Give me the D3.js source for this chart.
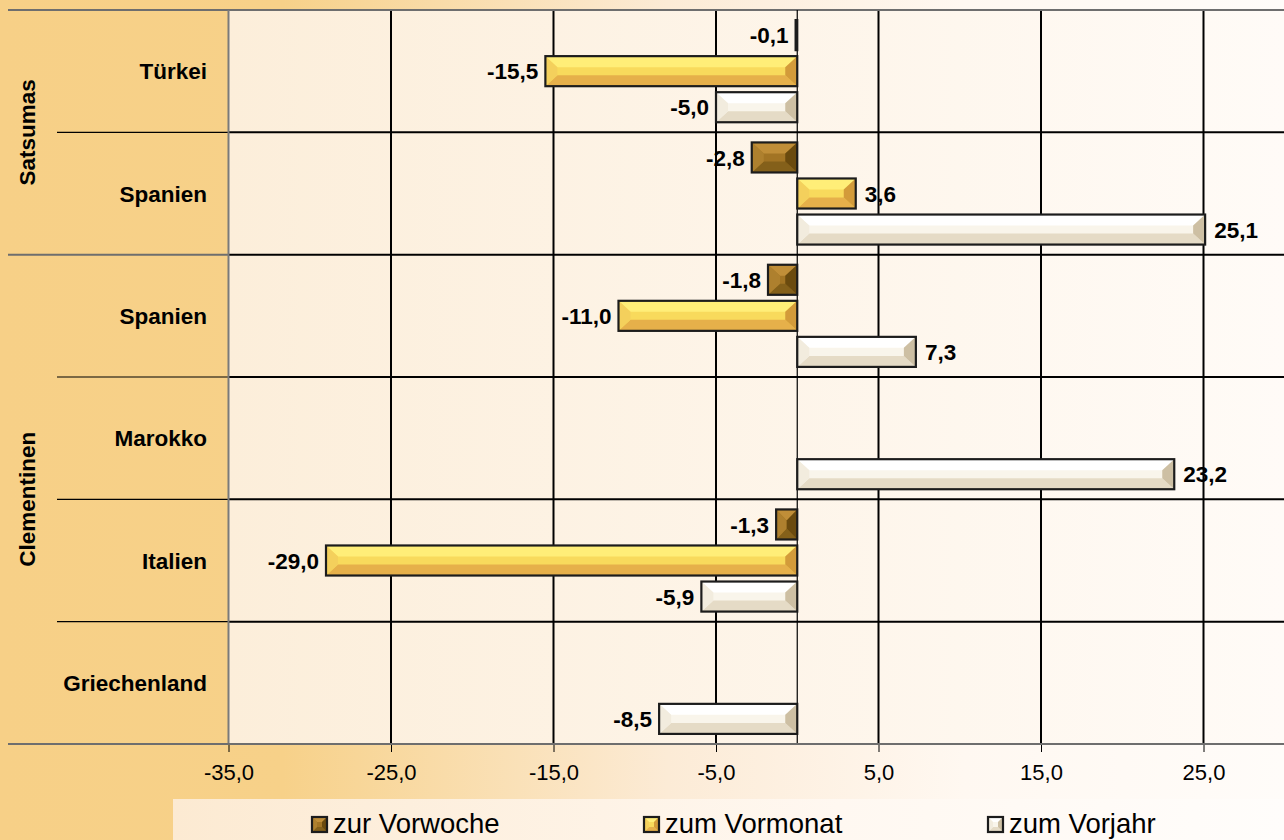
<!DOCTYPE html>
<html>
<head>
<meta charset="utf-8">
<script src="https://cdn.jsdelivr.net/npm/d3@7"></script>
<style>
  html, body { margin: 0; padding: 0; background: #fff; }
  svg { display: block; font-family: Arial, "Liberation Sans", sans-serif; }
</style>
</head>
<body>
<svg id="chart" width="1284" height="840"></svg>
<script>
// Price changes in percent, citrus imports by origin
const groups = ["Satsumas", "Clementinen"];
const rows = [
  { group: "Satsumas", label: "Türkei" },
  { group: "Satsumas", label: "Spanien" },
  { group: "Clementinen", label: "Spanien" },
  { group: "Clementinen", label: "Marokko" },
  { group: "Clementinen", label: "Italien" },
  { group: "Clementinen", label: "Griechenland" }
];
const seriesNames = ["zur Vorwoche", "zum Vormonat", "zum Vorjahr"];
const vorwoche = [-0.1, -2.8, -1.8, null, -1.3, null];
const vormonat = [-15.5, 3.6, -11.0, null, -29.0, null];
const vorjahr  = [-5.0, 25.1, 7.3, 23.2, -5.9, -8.5];
const tickValues = [-35, -25, -15, -5, 5, 15, 25];

const seriesValues = [vorwoche, vormonat, vorjahr];

// bevel shading per series: top, centre, bottom, left, right faces
const shades = [
  { top: "#C08E38", mid: "#A27424", bot: "#84601A", left: "#AE802E", right: "#6A4A0E" },
  { top: "#FFEE78", mid: "#F8DA5C", bot: "#E6B04A", left: "#F4D05C", right: "#D39B3A" },
  { top: "#FFFFFF", mid: "#F9F5EB", bot: "#E5DBC6", left: "#F2ECDE", right: "#CDBFA3" }
];

const svg = d3.select("#chart");
const W = 1284, H = 840;
const plot = { left: 228.5, top: 10, bottom: 744 };

const defs = svg.append("defs");
const bgGrad = defs.append("linearGradient").attr("id", "bgGrad");
bgGrad.append("stop").attr("offset", "0%").attr("stop-color", "#F7D087");
bgGrad.append("stop").attr("offset", "22%").attr("stop-color", "#F7D189");
bgGrad.append("stop").attr("offset", "52%").attr("stop-color", "#FCEBD6");
bgGrad.append("stop").attr("offset", "75%").attr("stop-color", "#FFF8F1");
bgGrad.append("stop").attr("offset", "100%").attr("stop-color", "#FFFCF9");

const plotGrad = defs.append("linearGradient").attr("id", "plotGrad");
plotGrad.append("stop").attr("offset", "0%").attr("stop-color", "#FCEEDA");
plotGrad.append("stop").attr("offset", "100%").attr("stop-color", "#FFFBF7");

const legGrad = defs.append("linearGradient").attr("id", "legGrad");
legGrad.append("stop").attr("offset", "0%").attr("stop-color", "#FCEAD2");
legGrad.append("stop").attr("offset", "60%").attr("stop-color", "#FFF8F1");
legGrad.append("stop").attr("offset", "100%").attr("stop-color", "#FFFDFB");

svg.append("rect").attr("width", W).attr("height", H).attr("fill", "url(#bgGrad)");

// scales
const x = d3.scaleLinear().domain([-35, 35]).range([plot.left, plot.left + 70 * 16.25]);
const y = d3.scaleBand().domain(d3.range(rows.length)).range([plot.top, plot.bottom]);
const ySub = d3.scaleBand().domain(d3.range(seriesNames.length))
  .range([0, y.bandwidth()]).paddingInner(1 / 6).paddingOuter(0.28);

// plot area
svg.append("rect")
  .attr("x", plot.left).attr("y", plot.top)
  .attr("width", W - plot.left).attr("height", plot.bottom - plot.top)
  .attr("fill", "url(#plotGrad)");

// vertical gridlines
svg.append("g").selectAll("line").data(tickValues.filter(t => t !== -35)).join("line")
  .attr("x1", d => x(d)).attr("x2", d => x(d))
  .attr("y1", plot.top).attr("y2", plot.bottom)
  .attr("stroke", "#000").attr("stroke-width", 2);

// horizontal row separators inside the plot
svg.append("g").selectAll("line").data(d3.range(1, rows.length)).join("line")
  .attr("x1", plot.left).attr("x2", W)
  .attr("y1", d => y(d)).attr("y2", d => y(d))
  .attr("stroke", "#000").attr("stroke-width", 2);

// top border of plot
svg.append("line").attr("x1", 8).attr("x2", W)
  .attr("y1", plot.top).attr("y2", plot.top)
  .attr("stroke", "#6e6e6e").attr("stroke-width", 2);

// separators in the category label area
const groupStarts = rows.map((r, i) => i).filter(i => i === 0 || rows[i].group !== rows[i - 1].group);
svg.append("g").selectAll("line").data(d3.range(1, rows.length)).join("line")
  .attr("x1", d => groupStarts.includes(d) ? 8 : 57).attr("x2", plot.left)
  .attr("y1", d => y(d)).attr("y2", d => y(d))
  .attr("stroke", d => groupStarts.includes(d) ? "#6e6e6e" : "#000")
  .attr("stroke-width", d => groupStarts.includes(d) ? 2 : 1.2);

// zero line
svg.append("line").attr("x1", x(0)).attr("x2", x(0))
  .attr("y1", plot.top).attr("y2", plot.bottom)
  .attr("stroke", "#000").attr("stroke-width", 1.2);

// bars with bevelled faces
function bevelBar(g, x0, y0, w, h, s, bx, by) {
  bx = Math.min(bx, w / 2);
  by = Math.min(by, h / 2);
  const x1 = x0 + w, y1 = y0 + h;
  const poly = (pts, fill) => g.append("polygon")
    .attr("points", pts.map(p => p.join(",")).join(" ")).attr("fill", fill);
  poly([[x0, y0], [x1, y0], [x1, y1], [x0, y1]], s.mid);
  poly([[x0, y0], [x1, y0], [x1 - bx, y0 + by], [x0 + bx, y0 + by]], s.top);
  poly([[x0, y1], [x1, y1], [x1 - bx, y1 - by], [x0 + bx, y1 - by]], s.bot);
  poly([[x0, y0], [x0 + bx, y0 + by], [x0 + bx, y1 - by], [x0, y1]], s.left);
  poly([[x1, y0], [x1 - bx, y0 + by], [x1 - bx, y1 - by], [x1, y1]], s.right);
  g.append("rect").attr("x", x0).attr("y", y0).attr("width", w).attr("height", h)
    .attr("fill", "none").attr("stroke", "#1c1c1c").attr("stroke-width", 2.2);
}

const fmt = v => d3.format(".1f")(v).replace("\u2212", "-").replace(".", ",");
const barLayer = svg.append("g");
const labelLayer = svg.append("g");

rows.forEach((r, i) => {
  seriesValues.forEach((vals, k) => {
    const v = vals[i];
    if (v === null || v === undefined) return;
    const x0 = Math.min(x(0), x(v));
    const w = Math.abs(x(v) - x(0));
    const y0 = y(i) + ySub(k);
    const h = ySub.bandwidth();
    bevelBar(barLayer.append("g"), x0, y0, w, h, shades[k], 12, 11);
    labelLayer.append("text")
      .attr("x", v < 0 ? x(v) - 7 : x(v) + 9)
      .attr("y", y0 + h / 2)
      .attr("dy", "0.36em")
      .attr("text-anchor", v < 0 ? "end" : "start")
      .attr("font-size", 22.5).attr("font-weight", "bold").attr("fill", "#000")
      .text(fmt(v));
  });
});

// left axis line
svg.append("line").attr("x1", plot.left).attr("x2", plot.left)
  .attr("y1", plot.top).attr("y2", plot.bottom)
  .attr("stroke", "#7a7a7a").attr("stroke-width", 2);

// bottom axis
const xAxis = d3.axisBottom(x).tickValues(tickValues).tickSize(8).tickPadding(12)
  .tickFormat(fmt);
const axisG = svg.append("g").attr("transform", `translate(0,${plot.bottom})`).call(xAxis);
axisG.select(".domain").remove();
axisG.selectAll(".tick line").attr("stroke", "#000").attr("stroke-width", 1);
axisG.selectAll(".tick text").attr("font-size", 22).attr("fill", "#000")
  .attr("font-family", "Arial, 'Liberation Sans', sans-serif");
svg.append("line").attr("x1", 8).attr("x2", W)
  .attr("y1", plot.bottom).attr("y2", plot.bottom)
  .attr("stroke", "#6e6e6e").attr("stroke-width", 2);

// category labels
svg.append("g").selectAll("text").data(rows).join("text")
  .attr("x", 207).attr("y", (d, i) => y(i) + y.bandwidth() / 2)
  .attr("dy", "0.36em").attr("text-anchor", "end")
  .attr("font-size", 22.5).attr("font-weight", "bold").attr("fill", "#000")
  .text(d => d.label);

// group labels (rotated)
groups.forEach(gname => {
  const idx = rows.map((r, i) => i).filter(i => rows[i].group === gname);
  const top = y(idx[0]);
  const bot = y(idx[idx.length - 1]) + y.bandwidth();
  const cy = (top + bot) / 2;
  svg.append("text")
    .attr("transform", `translate(27,${cy}) rotate(-90)`)
    .attr("dy", "0.36em").attr("text-anchor", "middle")
    .attr("font-size", 22.5).attr("font-weight", "bold").attr("fill", "#000")
    .text(gname);
});

// legend
svg.append("rect").attr("x", 173).attr("y", 799).attr("width", W - 173).attr("height", 41)
  .attr("fill", "url(#legGrad)");
const legendX = [312, 644, 988];
seriesNames.forEach((name, k) => {
  const g = svg.append("g");
  bevelBar(g, legendX[k], 817, 15, 15, shades[k], 5, 5);
  svg.append("text")
    .attr("x", legendX[k] + 21).attr("y", 833)
    .attr("font-size", 27.5).attr("fill", "#000")
    .text(name);
});
</script>
</body>
</html>
